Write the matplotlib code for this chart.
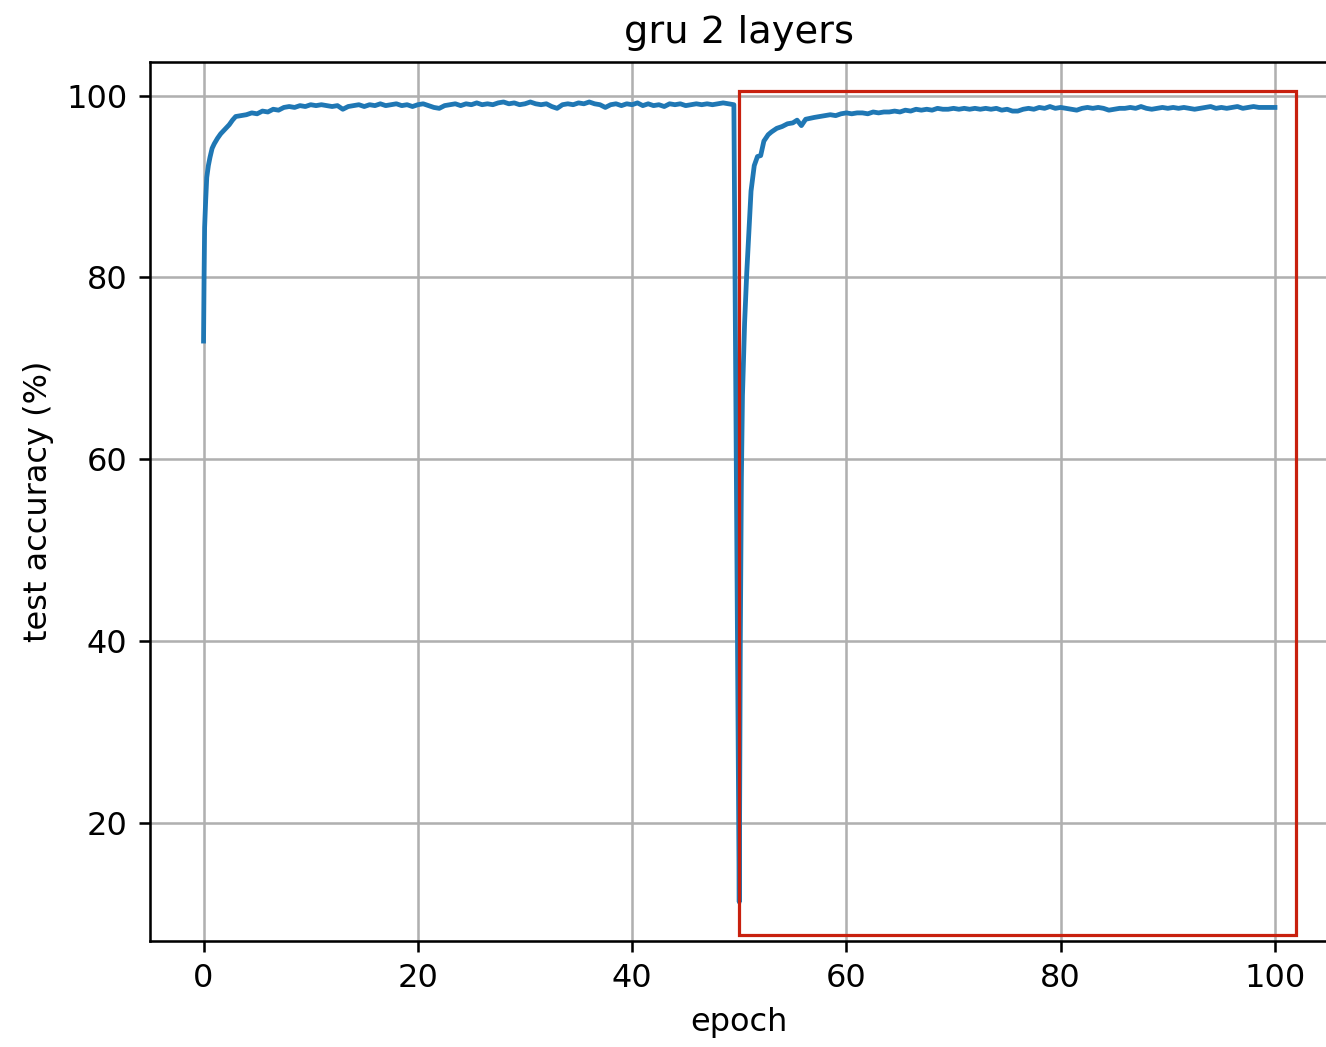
import numpy as np
import matplotlib
matplotlib.use("Agg")
import matplotlib.pyplot as plt
from matplotlib.patches import Rectangle

# run 1: first steps of training (dense)
ep_run1_start = [0.0, 0.05, 0.1, 0.2, 0.3, 0.45, 0.6, 0.8, 1.0, 1.3, 1.6, 2.0,
                 2.4, 2.7, 3.0, 3.5, 4.0]
acc_run1_start = [73.0, 80.0, 85.5, 88.5, 91.0, 92.3, 93.2, 94.2, 94.7, 95.3,
                  95.8, 96.3, 96.8, 97.3, 97.7, 97.8, 97.9]

# run 1: plateau, every half epoch from 4.5 to 49.5
ep_run1_plateau = np.arange(4.5, 50.0, 0.5)
acc_run1_plateau = [
    98.1, 98.0, 98.3, 98.2, 98.5, 98.4, 98.7, 98.8, 98.7, 98.9,
    98.8, 99.0, 98.9, 99.0, 98.9, 98.8, 98.9, 98.5, 98.8, 98.9,
    99.0, 98.8, 99.0, 98.9, 99.1, 98.9, 99.0, 99.1, 98.9, 99.0,
    98.8, 99.0, 99.1, 98.9, 98.7, 98.6, 98.9, 99.0, 99.1, 98.9,
    99.1, 99.0, 99.2, 99.0, 99.1, 99.0, 99.2, 99.3, 99.1, 99.2,
    99.0, 99.1, 99.3, 99.1, 99.0, 99.1, 98.8, 98.6, 99.0, 99.1,
    99.0, 99.2, 99.1, 99.3, 99.1, 99.0, 98.7, 99.0, 99.1, 98.9,
    99.1, 99.0, 99.2, 98.9, 99.1, 98.9, 99.0, 98.8, 99.1, 99.0,
    99.1, 98.9, 99.0, 99.1, 99.0, 99.1, 99.0, 99.1, 99.2, 99.1,
    99.0,
]

# run 2: restart at epoch 50 (dense)
ep_run2_start = [50.0, 50.1, 50.2, 50.3, 50.5, 50.7, 50.9, 51.1, 51.4, 51.7,
                 52.0, 52.3, 52.7, 53.0, 53.5, 54.0, 54.5, 55.0, 55.4, 55.8,
                 56.2, 56.6, 57.0, 57.5, 58.0, 58.5, 59.0, 59.5, 60.0]
acc_run2_start = [11.3, 40.0, 58.0, 67.0, 75.0, 80.5, 85.0, 89.5, 92.3, 93.3,
                  93.4, 95.0, 95.7, 96.0, 96.4, 96.6, 96.9, 97.0, 97.3, 96.7,
                  97.4, 97.5, 97.6, 97.7, 97.8, 97.9, 97.8, 98.0, 98.1]

# run 2: plateau, every half epoch from 60.5 to 100
ep_run2_plateau = np.arange(60.5, 100.01, 0.5)
acc_run2_plateau = [
    98.0, 98.1, 98.1, 98.0, 98.2, 98.1, 98.2, 98.2, 98.3, 98.2,
    98.4, 98.3, 98.5, 98.4, 98.5, 98.4, 98.6, 98.5, 98.5, 98.6,
    98.5, 98.6, 98.5, 98.6, 98.5, 98.6, 98.5, 98.6, 98.4, 98.5,
    98.3, 98.3, 98.5, 98.6, 98.5, 98.7, 98.6, 98.8, 98.6, 98.7,
    98.6, 98.5, 98.4, 98.6, 98.7, 98.6, 98.7, 98.6, 98.4, 98.5,
    98.6, 98.6, 98.7, 98.6, 98.8, 98.6, 98.5, 98.6, 98.7, 98.6,
    98.7, 98.6, 98.7, 98.6, 98.5, 98.6, 98.7, 98.8, 98.6, 98.7,
    98.6, 98.7, 98.8, 98.6, 98.7, 98.8, 98.7, 98.7, 98.7, 98.7,
]

epoch = np.concatenate([ep_run1_start, ep_run1_plateau, ep_run2_start, ep_run2_plateau])
acc = np.concatenate([acc_run1_start, acc_run1_plateau, acc_run2_start, acc_run2_plateau])

# highlighted second run (red box)
box_x0, box_x1 = 50.0, 102.0
box_y0, box_y1 = 7.7, 100.55

fig = plt.figure(figsize=(1326 / 230, 1047 / 230), dpi=230)
ax = fig.add_axes([0.1131, 0.1012, 0.8888, 0.8396])
ax.plot(epoch, acc, color="#1f77b4", lw=1.5)
ax.set_xlim(-5, 105)
ax.set_ylim(7.0, 103.7)
ax.set_xticks([0, 20, 40, 60, 80, 100])
ax.set_yticks([20, 40, 60, 80, 100])
ax.grid(True)
ax.add_patch(Rectangle((box_x0, box_y0), box_x1 - box_x0, box_y1 - box_y0,
                       fill=False, edgecolor="#c8200e", lw=1.0, zorder=5))
ax.set_title("gru 2 layers")
ax.set_xlabel("epoch")
ax.set_ylabel("test accuracy (%)")

fig.savefig("out.png", dpi=230)
